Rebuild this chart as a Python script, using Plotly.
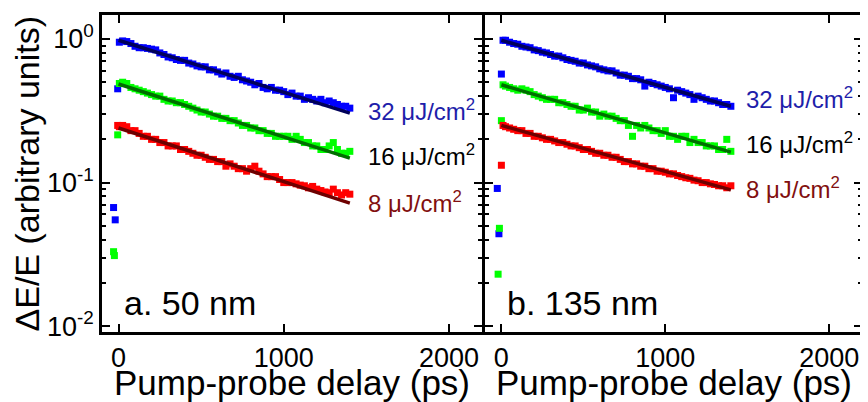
import math
import plotly.graph_objects as go

# ---------------- data ----------------
delays = [25, 50, 75, 100, 125, 150, 175, 200, 225, 250, 275, 300, 325, 350, 375, 400,
          425, 450, 475, 500, 525, 550, 575, 600, 625, 650, 675, 700, 725, 750, 775, 800,
          825, 850, 875, 900, 925, 950, 975, 1000, 1025, 1050, 1075, 1100, 1125, 1150, 1175,
          1200, 1225, 1250, 1275, 1300, 1325, 1350, 1375, 1400]

# panel a (50 nm)
a_early_x = {"32": [-30, -20, -5, 5], "16": [-30, -25, -5, 5], "8": [-5, 5]}
a_early_y = {"32": [0.067, 0.055, 0.45, 0.95], "16": [0.033, 0.031, 0.215, 0.49], "8": [0.25, 0.245]}
a32 = [0.97, 0.96, 0.93, 0.89, 0.87, 0.87, 0.86, 0.85, 0.84, 0.80, 0.78, 0.75, 0.74, 0.72, 0.71, 0.71,
       0.68, 0.67, 0.65, 0.64, 0.64, 0.61, 0.61, 0.59, 0.57, 0.58, 0.55, 0.54, 0.55, 0.52, 0.51, 0.50,
       0.48, 0.49, 0.46, 0.45, 0.46, 0.44, 0.44, 0.43, 0.41, 0.42, 0.40, 0.40, 0.38, 0.39, 0.38,
       0.37, 0.38, 0.36, 0.37, 0.36, 0.35, 0.34, 0.34, 0.33]
a16 = [0.50, 0.49, 0.46, 0.45, 0.44, 0.43, 0.42, 0.41, 0.40, 0.40, 0.38, 0.37, 0.37, 0.36, 0.36, 0.35,
       0.34, 0.33, 0.32, 0.31, 0.31, 0.30, 0.29, 0.29, 0.28, 0.28, 0.27, 0.27, 0.26, 0.25, 0.25, 0.24,
       0.24, 0.23, 0.23, 0.22, 0.22, 0.21, 0.21, 0.21, 0.21, 0.20, 0.21, 0.20, 0.19, 0.19, 0.18,
       0.18, 0.17, 0.17, 0.18, 0.19, 0.17, 0.16, 0.16, 0.165]
a8 = [0.25, 0.245, 0.23, 0.23, 0.22, 0.21, 0.21, 0.20, 0.20, 0.19, 0.19, 0.18, 0.18, 0.18, 0.17, 0.17,
      0.165, 0.16, 0.155, 0.155, 0.15, 0.145, 0.145, 0.14, 0.14, 0.13, 0.135, 0.13, 0.125, 0.125, 0.12, 0.125,
      0.13, 0.12, 0.115, 0.11, 0.11, 0.11, 0.105, 0.10, 0.10, 0.10, 0.098, 0.096, 0.095, 0.092, 0.094,
      0.09, 0.088, 0.086, 0.085, 0.09, 0.085, 0.082, 0.085, 0.083]

# panel b (135 nm)
b_early_x = {"32": [-25, -15, 0, 10], "16": [-20, -12, 0, 10], "8": [0, 10]}
b_early_y = {"32": [0.091, 0.044, 0.57, 0.98], "16": [0.023, 0.048, 0.27, 0.48], "8": [0.132, 0.25]}
b32 = [0.98, 0.95, 0.93, 0.92, 0.89, 0.88, 0.87, 0.84, 0.83, 0.81, 0.80, 0.78, 0.76, 0.76, 0.74, 0.72,
       0.71, 0.70, 0.68, 0.68, 0.66, 0.65, 0.64, 0.62, 0.61, 0.60, 0.60, 0.58, 0.56, 0.56, 0.55, 0.53,
       0.53, 0.52, 0.47, 0.50, 0.49, 0.48, 0.47, 0.46, 0.45, 0.39, 0.44, 0.43, 0.42, 0.41, 0.38,
       0.40, 0.39, 0.38, 0.37, 0.37, 0.36, 0.35, 0.35, 0.34]
b16 = [0.47, 0.46, 0.45, 0.44, 0.45, 0.44, 0.43, 0.41, 0.40, 0.39, 0.38, 0.38, 0.38, 0.36, 0.36, 0.35,
       0.34, 0.34, 0.32, 0.32, 0.33, 0.31, 0.31, 0.29, 0.30, 0.29, 0.29, 0.28, 0.27, 0.27, 0.25, 0.21,
       0.25, 0.24, 0.25, 0.24, 0.23, 0.23, 0.22, 0.23, 0.21, 0.21, 0.20, 0.21, 0.21, 0.19, 0.20,
       0.19, 0.19, 0.18, 0.18, 0.18, 0.17, 0.17, 0.20, 0.165]
b8 = [0.245, 0.24, 0.235, 0.23, 0.23, 0.22, 0.22, 0.21, 0.21, 0.205, 0.20, 0.20, 0.195, 0.19, 0.19, 0.185,
      0.18, 0.18, 0.175, 0.17, 0.17, 0.165, 0.16, 0.16, 0.155, 0.155, 0.15, 0.15, 0.145, 0.14, 0.14, 0.135,
      0.135, 0.13, 0.13, 0.125, 0.125, 0.12, 0.12, 0.118, 0.115, 0.115, 0.112, 0.11, 0.108, 0.107, 0.104,
      0.103, 0.10, 0.10, 0.098, 0.097, 0.095, 0.095, 0.092, 0.095]

# exponential fits (start/end values at 0 and 1400 ps)
fit_x = [0, 1400]
a_fit = {"32": [0.98, 0.305], "16": [0.486, 0.148], "8": [0.24, 0.072]}
b_fit = {"32": [0.98, 0.34], "16": [0.48, 0.163], "8": [0.25, 0.089]}

fluences = ["32", "16", "8"]
label_text = {f: f + " \u03bcJ/cm<sup>2</sup>" for f in fluences}
a_label_y = {"32": 0.32, "16": 0.155, "8": 0.073}
b_label_y = {"32": 0.388, "16": 0.188, "8": 0.0916}
panel_labels = ["a. 50 nm", "b. 135 nm"]

y_tickvals = [0.01, 0.1, 1]
y_ticktext = ["10<sup>-2</sup>", "10<sup>-1</sup>", "10<sup>0</sup>"]
y_minor = [0.02, 0.03, 0.04, 0.05, 0.06, 0.07, 0.08, 0.09,
           0.2, 0.3, 0.4, 0.5, 0.6, 0.7, 0.8, 0.9]
x_tickvals = [0, 1000, 2000]

# ---------------- style ----------------
marker_col = {"32": "#0000ff", "16": "#00ff00", "8": "#ff0000"}
fit_col = {"32": "#00005a", "16": "#006e00", "8": "#6e0000"}
label_col = {"32": "#1e1eaa", "16": "#000000", "8": "#820f0f"}
FONT = "Liberation Sans, Arial, sans-serif"

# the page body adds an 8 px margin, so the figure is 8 px smaller each way
W, H = 860, 394
fig = go.Figure()

panels = [
    ("x", "y", a_early_x, a_early_y, [a32, a16, a8], a_fit, a_label_y, 1500),
    ("x2", "y2", b_early_x, b_early_y, [b32, b16, b8], b_fit, b_label_y, 1480),
]
for xa, ya, ex, ey, series, fits, laby, labx in panels:
    for f, vals in zip(fluences, series):
        fig.add_trace(go.Scatter(
            x=ex[f] + delays, y=ey[f] + vals, mode="markers", xaxis=xa, yaxis=ya,
            marker=dict(symbol="square", size=7, color=marker_col[f], line=dict(width=0)),
            showlegend=False, hoverinfo="skip"))
    for f in fluences:
        fig.add_trace(go.Scatter(
            x=fit_x, y=fits[f], mode="lines", xaxis=xa, yaxis=ya,
            line=dict(color=fit_col[f], width=3.5), showlegend=False, hoverinfo="skip"))

for (xa, ya, _, _, _, _, laby, labx), plab in zip(panels, panel_labels):
    for f in fluences:
        fig.add_annotation(x=labx, y=math.log10(laby[f]), xref=xa, yref=ya,
                           text=label_text[f], showarrow=False, xanchor="left", yanchor="middle",
                           font=dict(size=24, color=label_col[f], family=FONT))
    fig.add_annotation(x=20, y=math.log10(0.0145), xref=xa, yref=ya, text=plab, showarrow=False,
                       xanchor="left", yanchor="middle", font=dict(size=34, color="black", family=FONT))

axis_common = dict(showline=True, linecolor="black", linewidth=2.5, mirror="allticks",
                   ticks="inside", ticklen=8, tickwidth=2, tickcolor="black",
                   showgrid=False, zeroline=False,
                   tickfont=dict(size=27, family=FONT, color="black"))

x_dom_a = [94 / W, 474 / W]
x_dom_b = [477 / W, 854 / W]
ylog_range = [math.log10(0.0091), math.log10(1.47)]

xcommon = dict(axis_common, range=[-100, 2200], tickmode="array", tickvals=x_tickvals)
ycommon = dict(axis_common, type="log", range=ylog_range, tickmode="array",
               tickvals=y_tickvals, ticktext=y_ticktext,
               minor=dict(ticks="inside", ticklen=4, tickwidth=1.5, tickcolor="black",
                          tickmode="array", tickvals=y_minor, showgrid=False))

fig.update_layout(
    width=W, height=H, margin=dict(l=0, r=0, t=7, b=70),
    paper_bgcolor="white", plot_bgcolor="white",
    font=dict(family=FONT, color="black"),
    xaxis=dict(xcommon, domain=x_dom_a, anchor="y"),
    xaxis2=dict(xcommon, domain=x_dom_b, anchor="y2"),
    yaxis=dict(ycommon, domain=[0, 1], anchor="x"),
    yaxis2=dict(ycommon, domain=[0, 1], anchor="x2", showticklabels=False),
)

# axis titles
for dom in (x_dom_a, x_dom_b):
    fig.add_annotation(x=(dom[0] + dom[1]) / 2, y=-0.158, xref="paper", yref="paper",
                       text="Pump-probe delay (ps)", showarrow=False, xanchor="center",
                       yanchor="middle", font=dict(size=35, family=FONT, color="black"))
fig.add_annotation(x=18 / W, y=0.5, xref="paper", yref="paper", textangle=-90,
                   text="\u0394E/E (arbitrary units)", showarrow=False, xanchor="center",
                   yanchor="middle", font=dict(size=34, family=FONT, color="black"))

fig.write_html("out.html")
